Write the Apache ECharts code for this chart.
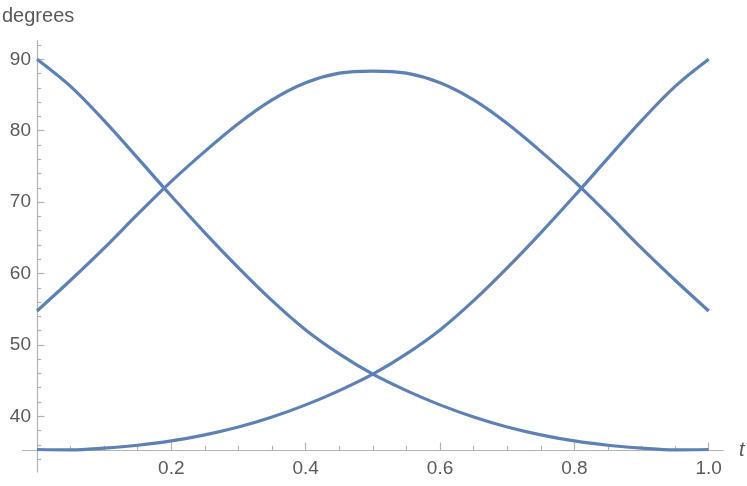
<!DOCTYPE html>
<html>
<head>
<meta charset="utf-8">
<script src="https://cdn.jsdelivr.net/npm/echarts@6/dist/echarts.min.js"></script>
<style>
html,body{margin:0;padding:0;background:#fff;}
#chart{width:747px;height:486px;}
</style>
</head>
<body>
<div id="chart"></div>
<script>
// ---- data ----
const tValues = [0, 0.05, 0.1, 0.15, 0.2, 0.25, 0.3, 0.35, 0.4, 0.45, 0.5, 0.55, 0.6, 0.65, 0.7, 0.75, 0.8, 0.85, 0.9, 0.95, 1.0];
const angleA = [90, 86.2, 81.4, 76.15, 70.85, 65.7, 60.8, 56.2, 52.1, 48.75, 45.9, 43.6, 41.6, 39.9, 38.5, 37.4, 36.55, 35.95, 35.55, 35.3, 35.35];
const angleB = [54.75, 59.05, 63.55, 68.3, 72.9, 77.1, 81.0, 84.3, 86.7, 88.05, 88.35, 88.05, 86.7, 84.3, 81.0, 77.1, 72.9, 68.3, 63.55, 59.05, 54.75];
const angleC = [35.35, 35.3, 35.55, 35.95, 36.55, 37.4, 38.5, 39.9, 41.6, 43.6, 45.9, 48.75, 52.1, 56.2, 60.8, 65.7, 70.85, 76.15, 81.4, 86.2, 90];

const xMajorTicks = [0.2, 0.4, 0.6, 0.8, 1.0];
const xMinorTicks = [0.05, 0.1, 0.15, 0.25, 0.3, 0.35, 0.45, 0.5, 0.55, 0.65, 0.7, 0.75, 0.85, 0.9, 0.95];
const yMajorTicks = [40, 50, 60, 70, 80, 90];
const yMinorTicks = [34, 36, 38, 42, 44, 46, 48, 52, 54, 56, 58, 62, 64, 66, 68, 72, 74, 76, 78, 82, 84, 86, 88, 92];

const xLabelText = 't';
const yLabelText = 'degrees';

// ---- chart ----
const lineColor = '#5E81B5';
const axisColor = '#b3b3b3';
const textColor = '#5a5a5a';
const fontFamily = '"Liberation Sans", Arial, sans-serif';

const X_MIN = -0.0214, X_MAX = 1.0214;
const Y_MIN = 32.2, Y_MAX = 92.6;

function pairs(ys) { return tValues.map((t, i) => [t, ys[i]]); }

function lineSeries(ys) {
  return {
    type: 'line',
    data: pairs(ys),
    xAxisIndex: 0,
    yAxisIndex: 0,
    smooth: 0.35,
    showSymbol: false,
    symbol: 'none',
    lineStyle: { color: lineColor, width: 3.2 },
    itemStyle: { color: lineColor },
    silent: true,
    animation: false
  };
}

const chart = echarts.init(document.getElementById('chart'), null, { renderer: 'canvas' });
chart.setOption({
  animation: false,
  backgroundColor: '#ffffff',
  title: {
    text: yLabelText,
    left: -3,
    top: 1,
    textStyle: { color: textColor, fontFamily: fontFamily, fontSize: 20, fontWeight: 'normal' }
  },
  grid: { left: 22.6, right: 747 - 723.1, top: 40.7, bottom: 486 - 472, containLabel: false, outerBoundsMode: 'none' },
  xAxis: [
    {
      type: 'value', min: X_MIN, max: X_MAX, position: 'bottom', offset: -22,
      name: xLabelText, nameLocation: 'end', nameGap: 16,
      nameTextStyle: { color: textColor, fontFamily: fontFamily, fontSize: 20, fontStyle: 'italic', verticalAlign: 'middle' },
      axisLine: { show: true, onZero: false, lineStyle: { color: axisColor, width: 1.2 } },
      axisTick: { show: true, inside: true, length: 7.5, customValues: xMajorTicks, lineStyle: { color: axisColor, width: 1.2 } },
      axisLabel: { show: true, customValues: xMajorTicks, margin: 9, color: textColor, fontFamily: fontFamily, fontSize: 19,
        formatter: v => Number(v).toFixed(1) },
      splitLine: { show: false }
    },
    {
      type: 'value', min: X_MIN, max: X_MAX, position: 'bottom', offset: -22,
      axisLine: { show: false, onZero: false },
      axisTick: { show: true, inside: true, length: 4.3, customValues: xMinorTicks, lineStyle: { color: axisColor, width: 1.2 } },
      axisLabel: { show: false },
      splitLine: { show: false }
    }
  ],
  yAxis: [
    {
      type: 'value', min: Y_MIN, max: Y_MAX, position: 'left',
      axisLine: { show: true, onZero: true, onZeroAxisIndex: 0, lineStyle: { color: axisColor, width: 1.2 } },
      axisTick: { show: true, inside: true, length: 7.5, customValues: yMajorTicks, lineStyle: { color: axisColor, width: 1.2 } },
      axisLabel: { show: true, customValues: yMajorTicks, margin: -8.4, color: textColor, fontFamily: fontFamily, fontSize: 19 },
      splitLine: { show: false }
    },
    {
      type: 'value', min: Y_MIN, max: Y_MAX, position: 'left',
      axisLine: { show: false, onZero: true, onZeroAxisIndex: 0 },
      axisTick: { show: true, inside: true, length: 4.3, customValues: yMinorTicks, lineStyle: { color: axisColor, width: 1.2 } },
      axisLabel: { show: false },
      splitLine: { show: false }
    }
  ],
  series: [lineSeries(angleA), lineSeries(angleB), lineSeries(angleC)]
});
</script>
</body>
</html>
